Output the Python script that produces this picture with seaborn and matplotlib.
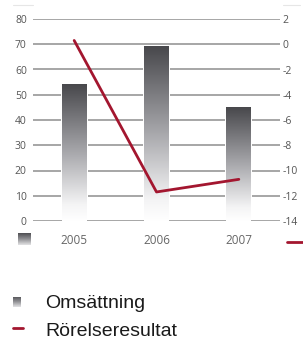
import numpy as np
import pandas as pd
import matplotlib
matplotlib.use("Agg")
import matplotlib.pyplot as plt
import seaborn as sns
from matplotlib.lines import Line2D
from matplotlib.colors import LinearSegmentedColormap

# ---- data ----
years = ["2005", "2006", "2007"]
omsattning = [54, 69, 45]
rorelseresultat = [0.3, -11.7, -10.7]
left_ticks = [0, 10, 20, 30, 40, 50, 60, 70, 80]
right_ticks = [-14, -12, -10, -8, -6, -4, -2, 0, 2]
legend_labels = ["Omsättning", "Rörelseresultat"]

sns.set_theme(style="white")
plt.rcParams['font.family'] = ['Open Sans', 'DejaVu Sans']
plt.rcParams['axes.unicode_minus'] = False

W, H = 303, 350
fig = plt.figure(figsize=(W / 100, H / 100), dpi=100)
fig.patch.set_facecolor("white")


def fx(px):
    return px / W


def fy(py):
    return 1 - py / H


ax = fig.add_axes([fx(33), fy(221), fx(280) - fx(33), fy(19) - fy(221)])
df = pd.DataFrame({"year": years, "oms": omsattning, "rr": rorelseresultat})

sns.barplot(data=df, x="year", y="oms", ax=ax, width=0.3, color="#666666",
            zorder=3, saturation=1)

grid_col = "#a6a6a6"
for y in left_ticks:
    ax.axhline(y, color=grid_col, lw=1.4, zorder=1)

cmap = LinearSegmentedColormap.from_list(
    "g", [(0, "#ffffff"), (0.12, "#f4f4f5"), (0.5, "#a8a8ac"), (1, "#48484c")])
grad = np.linspace(0, 1, 256).reshape(-1, 1)
for p in list(ax.patches):
    x0, w, h = p.get_x(), p.get_width(), p.get_height()
    # white margin so gridlines stop just short of the bar
    ax.imshow(np.ones((2, 2)), extent=[x0 - 0.012, x0 + w + 0.012, 0.6, h],
              cmap="gray", vmin=0, vmax=1, aspect="auto", zorder=2)
    ax.imshow(grad, extent=[x0, x0 + w, 0, h], origin="lower", cmap=cmap,
              aspect="auto", zorder=3, interpolation="bilinear")
    p.set_facecolor("none")
    p.set_edgecolor("none")

ax.set_xlim(-0.5, 2.5)
ax.set_ylim(0, 80)
ax.set_yticks(left_ticks)
ax.set_xlabel("")
ax.set_ylabel("")
for s in ax.spines.values():
    s.set_visible(False)
ax.tick_params(axis="y", length=0, pad=4.5, labelsize=7.5, labelcolor="#555555")
ax.tick_params(axis="x", length=0, pad=9, labelsize=8.5, labelcolor="#666666")
ax.set_facecolor("none")

ax2 = ax.twinx()
sns.lineplot(data=df, x="year", y="rr", ax=ax2, color="#a3162f", lw=2, sort=False)
ax2.set_ylim(-14, 2)
ax2.set_yticks(right_ticks)
ax2.set_ylabel("")
ax2.set_xlabel("")
for s in ax2.spines.values():
    s.set_visible(False)
ax2.tick_params(axis="y", length=0, pad=2, labelsize=7.5, labelcolor="#555555")
ax.set_xlim(-0.5, 2.5)


def grad_box(x0, y0, x1, y1):
    a = fig.add_axes([fx(x0), fy(y1), fx(x1) - fx(x0), fy(y0) - fy(y1)])
    a.imshow(grad, origin="lower", cmap=LinearSegmentedColormap.from_list(
        "h", ["#e4e4e6", "#909094", "#4e4e52"]), aspect="auto",
        interpolation="bilinear")
    a.set_axis_off()


# small axis indicators below the plot
grad_box(18, 233, 31, 245)
fig.add_artist(Line2D([fx(287), fx(303)], [fy(242), fy(242)], color="#a3162f",
                      lw=2, transform=fig.transFigure))

# faint top lines
fig.add_artist(Line2D([fx(13), fx(33)], [fy(5), fy(5)], color="#e6e6e6",
                      lw=0.8, transform=fig.transFigure))
fig.add_artist(Line2D([fx(283), fx(300)], [fy(5), fy(5)], color="#e6e6e6",
                      lw=0.8, transform=fig.transFigure))

# legend
grad_box(13, 297, 21, 307)
fig.add_artist(Line2D([fx(13), fx(23)], [fy(328), fy(328)], color="#a3162f",
                      lw=2, transform=fig.transFigure))
fig.text(fx(45), fy(308), legend_labels[0], fontsize=14, color="#1a1a1a",
         family=["Liberation Sans"], va="baseline", ha="left")
fig.text(fx(45), fy(336.5), legend_labels[1], fontsize=14, color="#1a1a1a",
         family=["Liberation Sans"], va="baseline", ha="left")

fig.savefig("out.png", dpi=100, facecolor="white")
